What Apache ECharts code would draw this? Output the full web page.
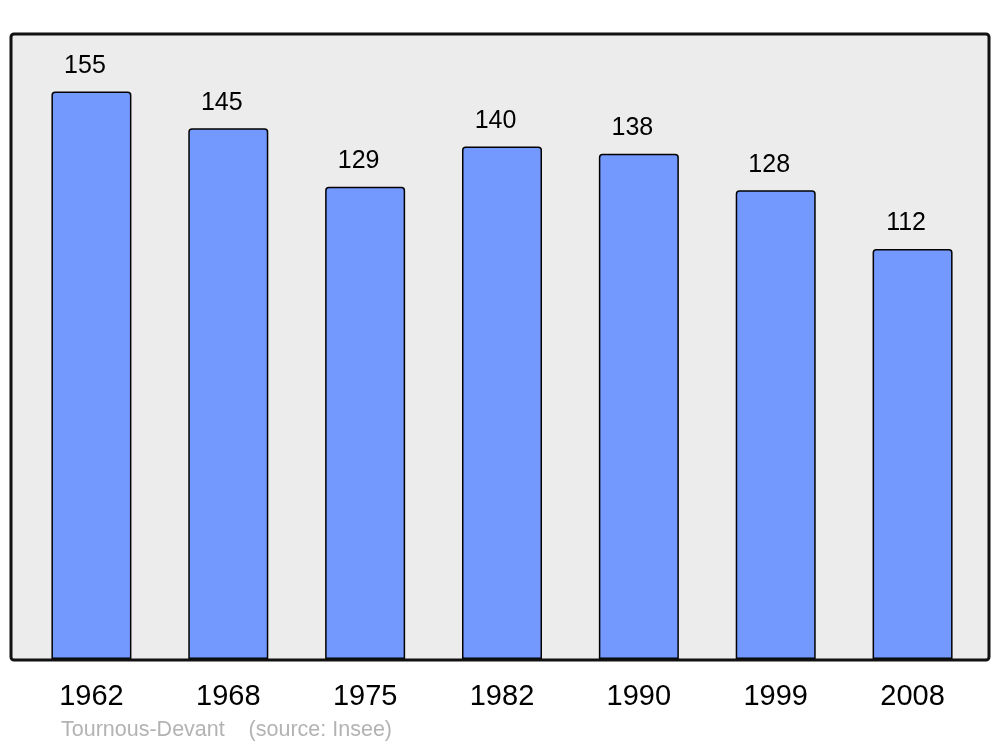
<!DOCTYPE html>
<html>
<head>
<meta charset="utf-8">
<script src="https://cdn.jsdelivr.net/npm/echarts@6/dist/echarts.min.js"></script>
<style>
  html, body { margin: 0; padding: 0; background: #fff; }
  #chart { width: 1000px; height: 747px; }
</style>
</head>
<body>
<div id="chart"></div>
<script>
// population by census year
const years = ["1962", "1968", "1975", "1982", "1990", "1999", "2008"];
const population = [155, 145, 129, 140, 138, 128, 112];
const footer = "Tournous-Devant    (source: Insee)";

const chart = echarts.init(document.getElementById("chart"));

let option = {
  animation: false,
  textStyle: { fontFamily: "Liberation Sans, Arial, sans-serif" },
  grid: { left: 23, right: 19, top: 36.6, bottom: 88 },
  graphic: [
    {
      // plot background
      type: "rect",
      z: -10,
      shape: { x: 11, y: 34, width: 978, height: 626, r: 3 },
      style: { fill: "#ececec", stroke: null },
    },
    {
      // frame on top of the bars
      type: "rect",
      z: 100,
      shape: { x: 11, y: 34, width: 978, height: 626, r: 3 },
      style: { fill: null, stroke: "#111", lineWidth: 3 },
    },
    {
      type: "text",
      left: 61,
      top: 719,
      style: {
        text: footer,
        fill: "#b3b3b3",
        font: "21.5px Liberation Sans, Arial, sans-serif",
      },
    },
  ],
  xAxis: {
    type: "category",
    data: years,
    axisLine: { show: false },
    axisTick: { show: false },
    axisLabel: { color: "#000", fontSize: 29, margin: 23 },
  },
  yAxis: {
    type: "value",
    min: 0,
    max: 170,
    show: false,
    splitLine: { show: false },
  },
  series: [
    {
      type: "bar",
      data: population,
      barWidth: 80,
      itemStyle: {
        color: "#7399ff",
        borderColor: "#000",
        borderWidth: 1.5,
        borderRadius: [3, 3, 0, 0],
      },
      label: {
        show: true,
        position: "top",
        distance: 13,
        offset: [-6.5, 0],
        color: "#000",
        fontSize: 25,
      },
    },
  ],
};

chart.setOption(option);
</script>
</body>
</html>
